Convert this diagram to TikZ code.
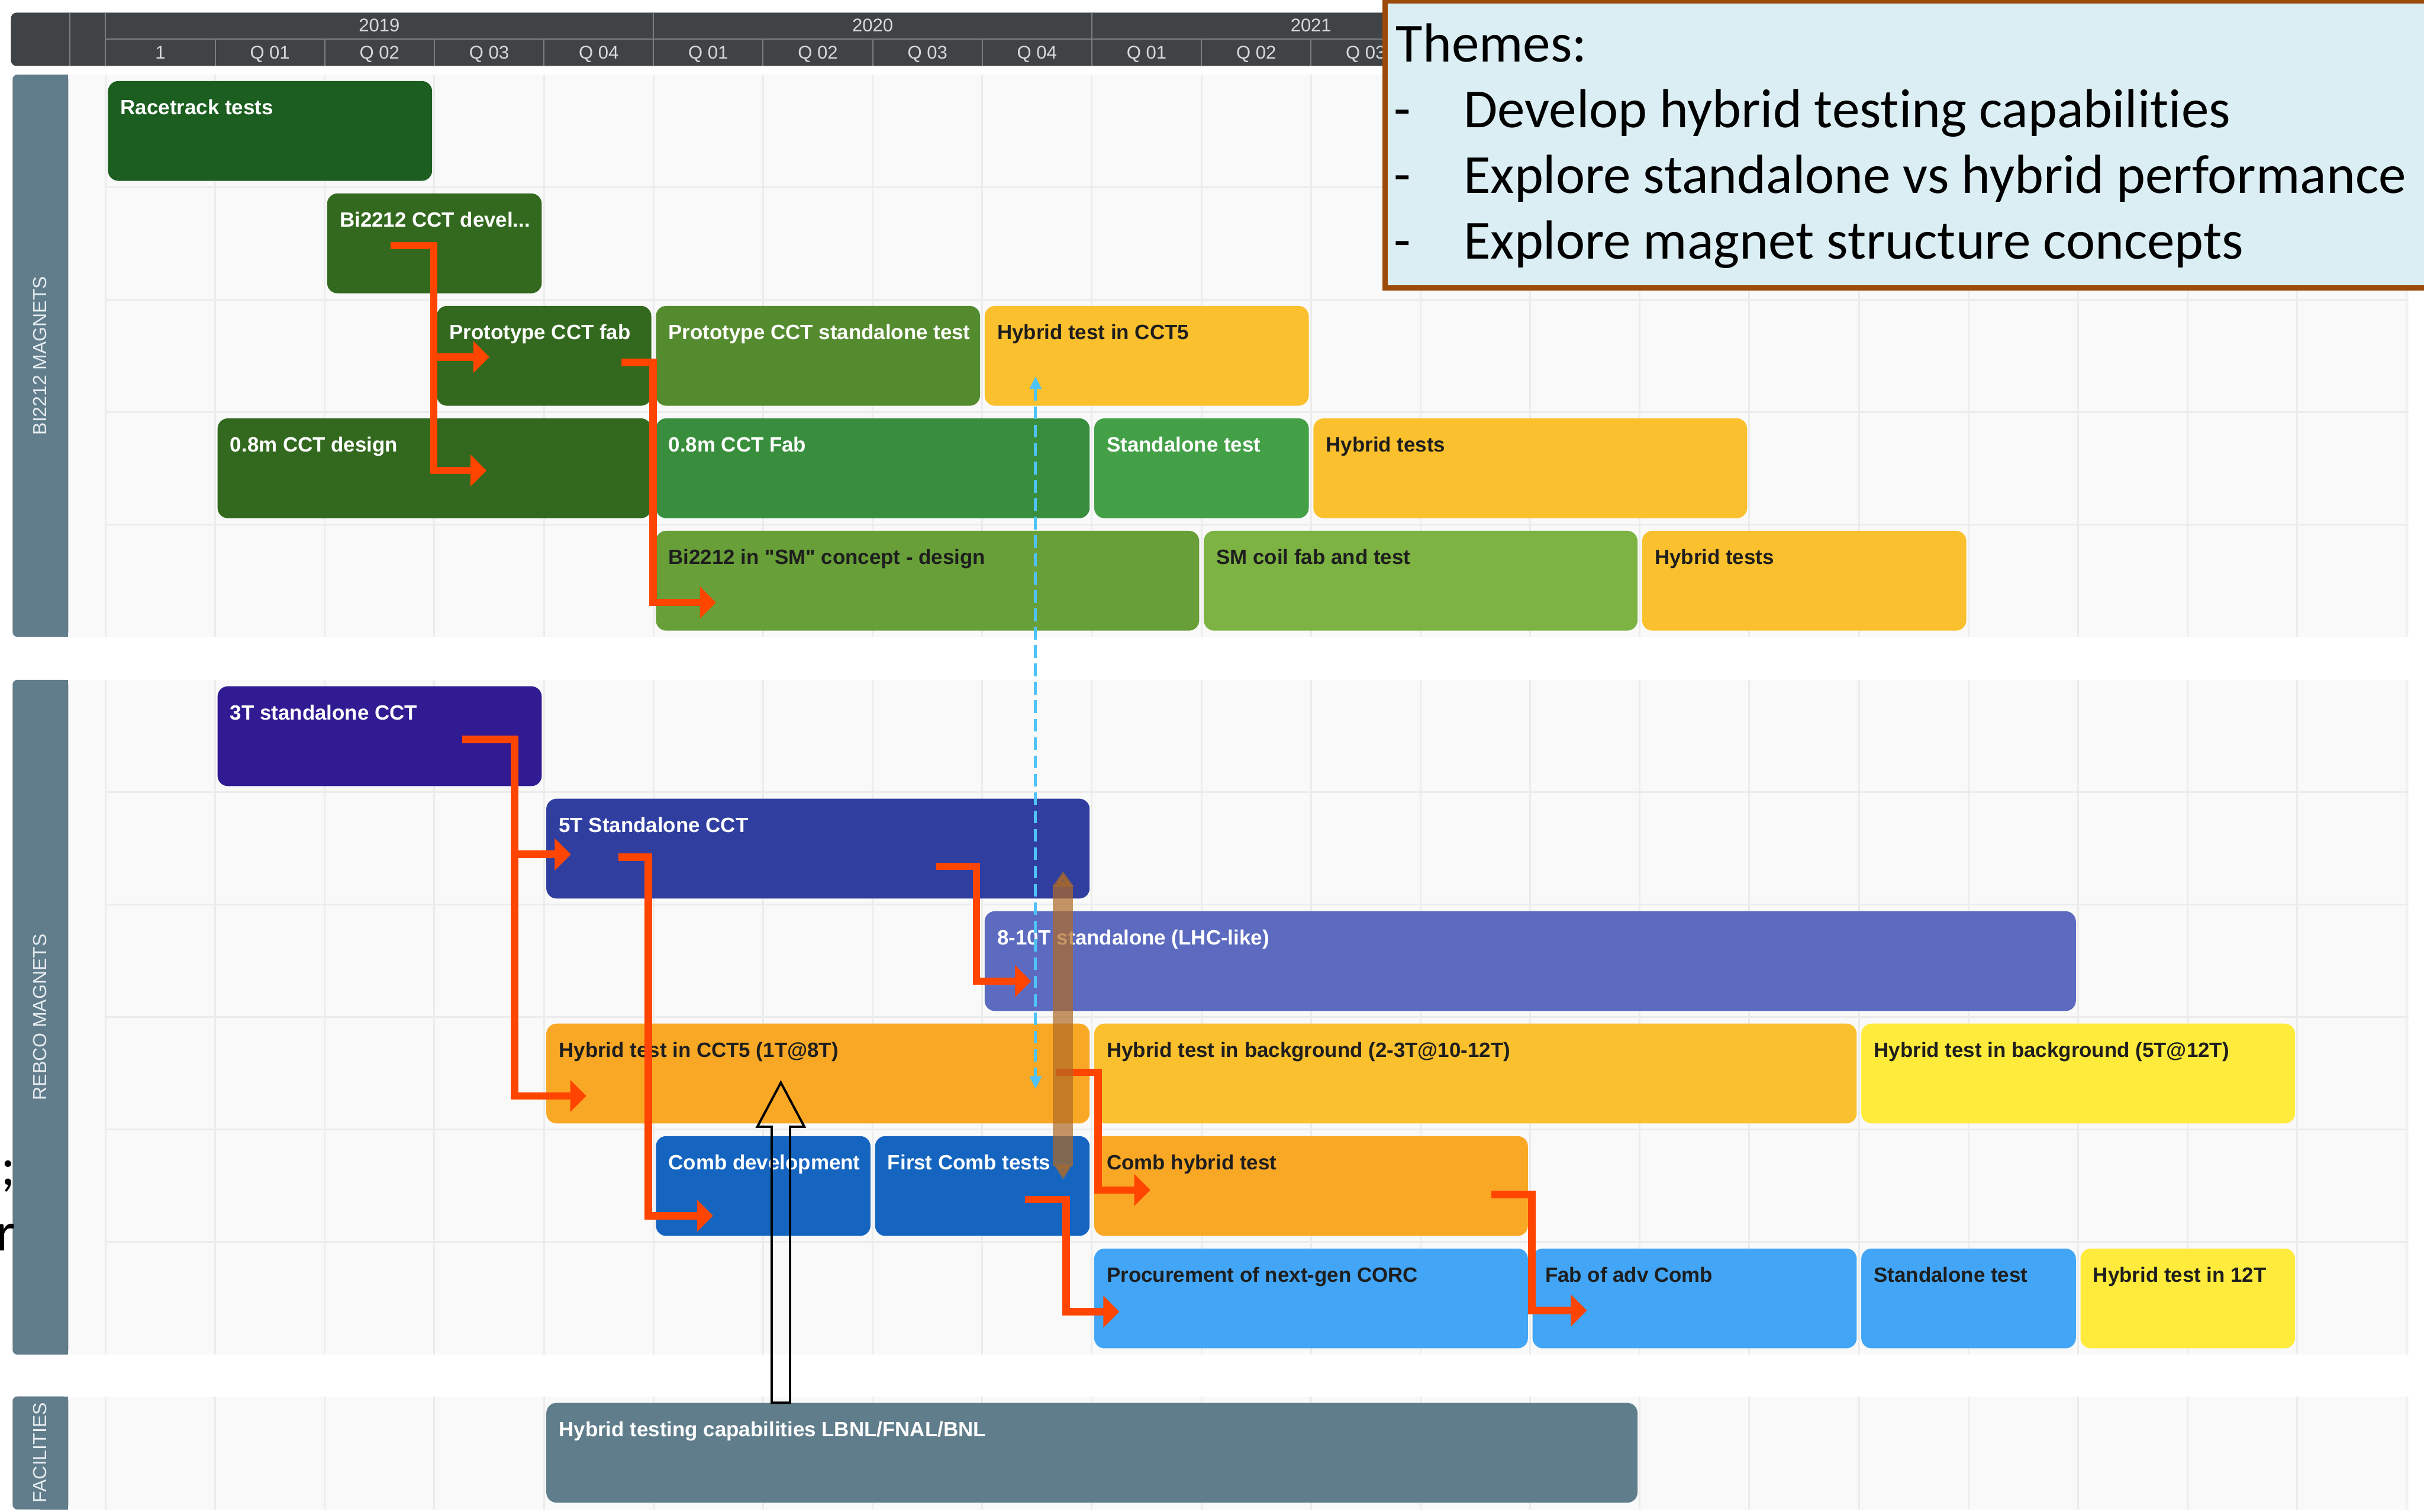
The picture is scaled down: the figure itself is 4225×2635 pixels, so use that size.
\documentclass[tikz,border=0pt]{standalone}
\usepackage{fontspec}
\setmainfont{Liberation Sans}[Ligatures=TeXOff]
\newfontfamily\themefont{Carlito}[Ligatures={NoCommon}]
\usetikzlibrary{arrows.meta,calc}

\definecolor{hdrbg}{HTML}{404346}
\definecolor{hdrline}{HTML}{7C7F82}
\definecolor{hdrtext}{HTML}{D9D9D9}
\definecolor{lanebg}{HTML}{F9F9F9}
\definecolor{gridc}{HTML}{ECECEC}
\definecolor{lanec}{HTML}{617D8C}
\definecolor{lanetxt}{HTML}{E6ECEF}
\definecolor{darktext}{HTML}{1E1E1E}
% bar fills
\definecolor{grA}{HTML}{1B5E20}
\definecolor{grB}{HTML}{33691E}
\definecolor{grC}{HTML}{558B2F}
\definecolor{grD}{HTML}{388E3C}
\definecolor{grE}{HTML}{43A047}
\definecolor{grF}{HTML}{689F38}
\definecolor{grG}{HTML}{7CB342}
\definecolor{amber}{HTML}{FBC02D}
\definecolor{orangeb}{HTML}{F9A825}
\definecolor{yellowb}{HTML}{FFEB3B}
\definecolor{indigoA}{HTML}{311B92}
\definecolor{indigoB}{HTML}{303F9F}
\definecolor{indigoC}{HTML}{5C6BC0}
\definecolor{blueA}{HTML}{1565C0}
\definecolor{blueB}{HTML}{42A5F5}
\definecolor{slate}{HTML}{607D8B}
% connectors and notes
\definecolor{depred}{HTML}{FF4500}
\definecolor{linkblue}{HTML}{4FC3F7}
\definecolor{fatbrown}{HTML}{B06A25}
\definecolor{themefill}{HTML}{DBEEF3}
\definecolor{themeedge}{HTML}{9C4A0A}

% one Gantt bar: name, first quarter, last quarter, row top, fill, text colour, text
\newcommand\ganttbar[7]{%
  \node[barbox, fill=#5, minimum width={191*(#3-#2)-8}] (#1) at ({184+191*#2+4},{#4+11}) {};
  \node[bartext, text=#6] (#1-t) at ($(#1.north west)+(22,59)$) {#7};}

\begin{document}
\begin{tikzpicture}[x=1pt,y=-1pt,
  barbox/.style={anchor=north west, inner sep=0pt, minimum height=174, rounded corners=18pt},
  bartext/.style={anchor=base west, inner sep=0pt, font=\fontsize{36}{40}\selectfont\bfseries},
  gridline/.style={draw=gridc, line width=3pt},
  hdrrule/.style={draw=hdrline, line width=2pt},
  hdrlabel/.style={anchor=base, inner sep=0pt, text=hdrtext, font=\fontsize{32}{36}\selectfont},
  lanelabel/.style={inner sep=0pt, rotate=90, text=lanetxt, font=\fontsize{33}{36}\selectfont},
  dep/.style={draw=depred, line width=13pt, -{Triangle[length=28pt,width=54pt]}},
  link/.style={draw=linkblue, line width=5pt, dash pattern=on 22pt off 10pt,
    {Triangle[length=22pt,width=20pt]}-{Triangle[length=22pt,width=20pt]}},
  fat/.style={draw=fatbrown, opacity=0.7, line width=35pt,
    {Triangle[length=26pt,width=35pt]}-{Triangle[length=26pt,width=30pt]}},
  hollow/.style={draw=black, line width=4pt, line join=miter},
  themetext/.style={anchor=base west, inner sep=0pt, text=black, font=\themefont\fontsize{96}{114}\selectfont}]

\useasboundingbox (0,0) rectangle (4225,2635);
\fill[white] (0,0) rectangle (4225,2635);

% swimlane backgrounds
\fill[lanebg] (119,130) rectangle (4198,1110);
\fill[lanebg] (119,1185) rectangle (4198,2361);
\fill[lanebg] (119,2434) rectangle (4198,2631);

% grid
\foreach \k in {0,...,21}{
  \draw[gridline] ({184+191*\k},130) -- ({184+191*\k},1110);
  \draw[gridline] ({184+191*\k},1185) -- ({184+191*\k},2361);
  \draw[gridline] ({184+191*\k},2434) -- ({184+191*\k},2631);
}
\foreach \r in {326,522,718,914,1381,1577,1773,1969,2165}
  \draw[gridline] (184,\r) -- (4198,\r);

% lane titles
\fill[lanec, rounded corners=8pt] (22,130) rectangle (119,1110);
\fill[lanec] (70,130) rectangle (119,1110);
\fill[lanec, rounded corners=8pt] (22,1185) rectangle (119,2361);
\fill[lanec] (70,1185) rectangle (119,2361);
\fill[lanec, rounded corners=8pt] (22,2434) rectangle (119,2631);
\fill[lanec] (70,2434) rectangle (119,2631);
\node[lanelabel] (lane-bi) at (70,620) {BI2212 MAGNETS};
\node[lanelabel] (lane-rebco) at (70,1773) {REBCO MAGNETS};
\node[lanelabel] (lane-fac) at (70,2532) {FACILITIES};

% Bi2212 magnets
\ganttbar{race}{0}{3}{130}{grA}{white}{Racetrack tests}
\ganttbar{cctdev}{2}{4}{326}{grB}{white}{Bi2212 CCT devel...}
\ganttbar{protofab}{3}{5}{522}{grB}{white}{Prototype CCT fab}
\ganttbar{protostd}{5}{8}{522}{grC}{white}{Prototype CCT standalone test}
\ganttbar{hybcct}{8}{11}{522}{amber}{darktext}{Hybrid test in CCT5}
\ganttbar{design}{1}{5}{718}{grB}{white}{0.8m CCT design}
\ganttbar{fab}{5}{9}{718}{grD}{white}{0.8m CCT Fab}
\ganttbar{std}{9}{11}{718}{grE}{white}{Standalone test}
\ganttbar{hybA}{11}{15}{718}{amber}{darktext}{Hybrid tests}
\ganttbar{smdesign}{5}{10}{914}{grF}{darktext}{Bi2212 in "SM" concept - design}
\ganttbar{smfab}{10}{14}{914}{grG}{darktext}{SM coil fab and test}
\ganttbar{hybB}{14}{17}{914}{amber}{darktext}{Hybrid tests}

% REBCO magnets
\ganttbar{tthree}{1}{4}{1185}{indigoA}{white}{3T standalone CCT}
\ganttbar{tfive}{4}{9}{1381}{indigoB}{white}{5T Standalone CCT}
\ganttbar{tten}{8}{18}{1577}{indigoC}{white}{8-10T standalone (LHC-like)}
\ganttbar{hybone}{4}{9}{1773}{orangeb}{darktext}{Hybrid test in CCT5 (1T@8T)}
\ganttbar{hybtwo}{9}{16}{1773}{amber}{darktext}{Hybrid test in background (2-3T@10-12T)}
\ganttbar{hybthree}{16}{20}{1773}{yellowb}{darktext}{Hybrid test in background (5T@12T)}
\ganttbar{combdev}{5}{7}{1969}{blueA}{white}{Comb development}
\ganttbar{combfirst}{7}{9}{1969}{blueA}{white}{First Comb tests}
\ganttbar{combhyb}{9}{13}{1969}{orangeb}{darktext}{Comb hybrid test}
\ganttbar{corc}{9}{13}{2165}{blueB}{darktext}{Procurement of next-gen CORC}
\ganttbar{advcomb}{13}{16}{2165}{blueB}{darktext}{Fab of adv Comb}
\ganttbar{advstd}{16}{18}{2165}{blueB}{darktext}{Standalone test}
\ganttbar{hybtwelve}{18}{20}{2165}{yellowb}{darktext}{Hybrid test in 12T}

% facilities
\ganttbar{facility}{4}{14}{2434}{slate}{white}{Hybrid testing capabilities LBNL/FNAL/BNL}

% dependencies
\coordinate (a1s) at ($(cctdev.north west)+(111,91)$);
\coordinate (a1c) at ($(protofab.west)+(-5,2)$);
\draw[dep] (a1s) -| (a1c) -- ($(protofab.west)+(92,2)$);
\draw[dep] (a1c) |- ($(design.west)+(469,4)$);

\coordinate (a2s) at ($(protofab.north west)+(322,99)$);
\draw[dep] (a2s) -| ($(smdesign.west)+(-5,38)$) -- ($(smdesign.west)+(105,38)$);

\coordinate (a3s) at ($(tthree.north west)+(427,93)$);
\coordinate (a3c) at ($(tfive.west)+(-55,10)$);
\draw[dep] (a3s) -| (a3c) -- ($(tfive.west)+(43,10)$);
\draw[dep] (a3c) |- ($(hybone.west)+(70,39)$);

\coordinate (a4s) at ($(tfive.north west)+(126,102)$);
\draw[dep] (a4s) -| ($(combdev.west)+(-13,52)$) -- ($(combdev.west)+(100,52)$);

\coordinate (a5s) at ($(tfive.north west)+(680,118)$);
\draw[dep] (a5s) -| ($(tten.west)+(-14,35)$) -- ($(tten.west)+(81,35)$);

\coordinate (a6s) at ($(hybone.north west)+(888,85)$);
\draw[dep] (a6s) -| ($(combhyb.west)+(7,7)$) -- ($(combhyb.west)+(98,7)$);

\coordinate (a7s) at ($(combfirst.north west)+(262,111)$);
\draw[dep] (a7s) -| ($(corc.west)+(-49,23)$) -- ($(corc.west)+(44,23)$);

\coordinate (a8s) at ($(combhyb.north west)+(692,102)$);
\draw[dep] (a8s) -| ($(advcomb.west)+(-1,21)$) -- ($(advcomb.west)+(95,21)$);

% links between the two hybrid tests
\draw[link] ($(hybcct.north west)+(89,123)$) -- ($(hybone.north west)+(853,114)$);
\draw[fat] ($(tfive.north west)+(901,127)$) -- ($(combfirst.north west)+(328,76)$);

% facility feeding the hybrid test
\coordinate (hb) at ($(facility.north west)+(409,0)$);
\coordinate (ht) at ($(hybone.north west)+(409,103)$);
\draw[hollow] (hb) ++(-16,0) -- ++(0,-481) -- ++(-25,0) -- (ht) -- ++(41,77) -- ++(-25,0) -- ++(0,481) -- cycle;

% timeline header
\fill[hdrbg, rounded corners=10pt] (19,22) rectangle (4225,115);
\draw[hdrrule] (122,22) -- (122,115);
\draw[hdrrule] (184,68) -- (4225,68);
\foreach \k in {0,5,9,13,17,21} \draw[hdrrule] ({184+191*\k},22) -- ({184+191*\k},115);
\foreach \k in {1,...,21} \draw[hdrrule] ({184+191*\k},68) -- ({184+191*\k},115);
\node[hdrlabel] (y2019) at (661,55) {2019};
\node[hdrlabel] (y2020) at (1521,55) {2020};
\node[hdrlabel] (y2021) at (2285,55) {2021};
\node[hdrlabel] (q0) at (279.5,103) {1};
\foreach \k/\q in {1/01,2/02,3/03,4/04,5/01,6/02,7/03,8/04,9/01,10/02,11/03}
  \node[hdrlabel] (q\k) at ({279.5+191*\k},103) {Q \q};

% themes note
\node[draw=themeedge, line width=9pt, fill=themefill, anchor=north west, inner sep=0pt,
      minimum width=1830, minimum height=500] (themes) at (2410,-3) {};
\node[themetext] (th0) at (2433,108) {Themes:};
\node[themetext] (th1d) at (2429,222) {-};
\node[themetext] (th1) at (2551,222) {Develop hybrid testing capabilities};
\node[themetext] (th2d) at (2429,337) {-};
\node[themetext] (th2) at (2551,337) {Explore standalone vs hybrid performance};
\node[themetext] (th3d) at (2429,451) {-};
\node[themetext] (th3) at (2551,451) {Explore magnet structure concepts};

% text running in from the left edge
\node[themetext] (edge1) at (1,2066) {;};
\node[themetext] (edge2) at (-7,2180) {r};
\end{tikzpicture}
\end{document}
